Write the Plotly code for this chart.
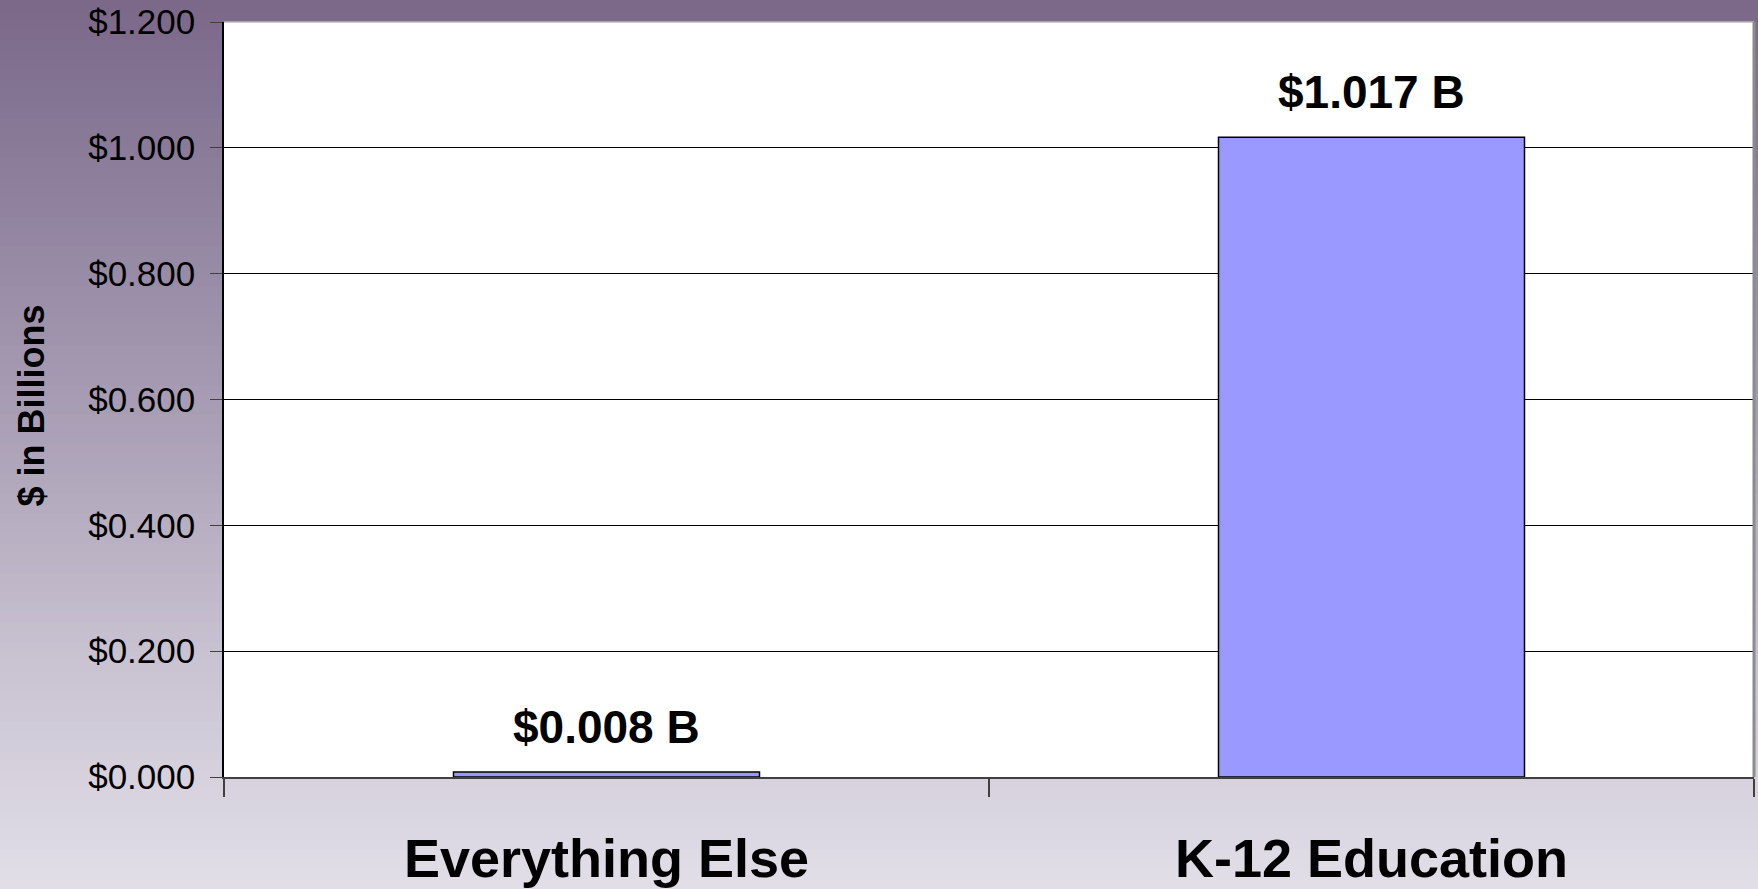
import plotly.graph_objects as go

categories = ["Everything Else", "K-12 Education"]
values = [0.008, 1.017]
y_ticks = [0.0, 0.2, 0.4, 0.6, 0.8, 1.0, 1.2]
y_tick_labels = ["$0.000", "$0.200", "$0.400", "$0.600", "$0.800", "$1.000", "$1.200"]

W, H = 1758, 889
L, R, T, B = 224, 4, 22, 112
plot_h = H - T - B

fig = go.Figure()
fig.add_trace(go.Bar(
    x=categories, y=values,
    marker=dict(color="#9999ff", line=dict(color="#000000", width=1.5)),
    width=0.4, showlegend=False, hoverinfo="skip",
))

# background gradient (decorative)
stops = [(0, (123, 104, 137)), (150, (138, 123, 153)), (400, (167, 156, 179)),
         (650, (200, 193, 208)), (889, (226, 223, 232))]

def col_at(py):
    for (a, ca), (b, cb) in zip(stops[:-1], stops[1:]):
        if a <= py <= b:
            t = (py - a) / (b - a)
            return "rgb(%d,%d,%d)" % tuple(round(ca[i] + (cb[i] - ca[i]) * t) for i in range(3))
    return "rgb(226,223,232)"

def pix_to_paper(py):
    return (H - B - py) / plot_h

shapes = []
n = 90
for i in range(n):
    p0 = H * i / n
    p1 = H * (i + 1) / n + 1
    shapes.append(dict(type="rect", xref="paper", yref="paper",
                       x0=-L / (W - L - R) - 0.01, x1=1 + R / (W - L - R) + 0.01,
                       y0=pix_to_paper(p1), y1=pix_to_paper(p0),
                       fillcolor=col_at((p0 + p1) / 2), line=dict(width=0), layer="below"))
shapes.append(dict(type="rect", xref="paper", yref="paper", x0=0, x1=1, y0=0, y1=1,
                   fillcolor="white", line=dict(width=0), layer="below"))
shapes.append(dict(type="line", xref="paper", yref="paper", x0=0, x1=1, y0=1, y1=1,
                   line=dict(color="#b8b8b8", width=1.5), layer="above"))
shapes.append(dict(type="line", xref="paper", yref="paper", x0=1, x1=1, y0=0, y1=1,
                   line=dict(color="#8c8c8c", width=3), layer="above"))

annotations = []
for c, v in zip(categories, values):
    annotations.append(dict(x=c, y=v, xref="x", yref="y", text="$%.3f B" % v,
                            showarrow=False, yanchor="middle", yshift=45,
                            font=dict(family="Liberation Sans, Arial", size=46, color="black", weight="bold")))
annotations.append(dict(x=-L / (W - L - R) + 31 / (W - L - R), y=0.5, yshift=-6,
                        xref="paper", yref="paper",
                        text="<b>$ in Billions</b>", textangle=-90, showarrow=False,
                        xanchor="center", yanchor="middle",
                        font=dict(family="Liberation Sans, Arial", size=36, color="black")))

fig.update_layout(
    width=W, height=H,
    margin=dict(l=L, r=R, t=T, b=B, pad=0, autoexpand=False),
    paper_bgcolor="#e2dfe8", plot_bgcolor="rgba(0,0,0,0)",
    shapes=shapes, annotations=annotations, bargap=0.6,
    font=dict(family="Liberation Sans, Arial", color="black"),
)
fig.update_xaxes(
    automargin=False,
    showgrid=False, showline=True, linecolor="#404040", linewidth=2,
    ticks="outside", tickson="boundaries", ticklen=18, tickcolor="#404040", tickwidth=2,
    tickfont=dict(size=54, color="black", weight="bold"),
    ticklabelstandoff=33,
)
fig.update_yaxes(
    automargin=False,
    range=[0, 1.2], tickmode="array", tickvals=y_ticks, ticktext=y_tick_labels,
    showgrid=True, gridcolor="black", gridwidth=1,
    zeroline=False, showline=True, linecolor="black", linewidth=1.5,
    ticks="outside", ticklen=12, tickcolor="#404040",
    tickfont=dict(size=35, color="black"),
    ticklabelstandoff=8,
)
fig.write_html("out.html", config={"displayModeBar": False},
               post_script="document.body.style.margin='0px';document.body.style.overflow='hidden';")
